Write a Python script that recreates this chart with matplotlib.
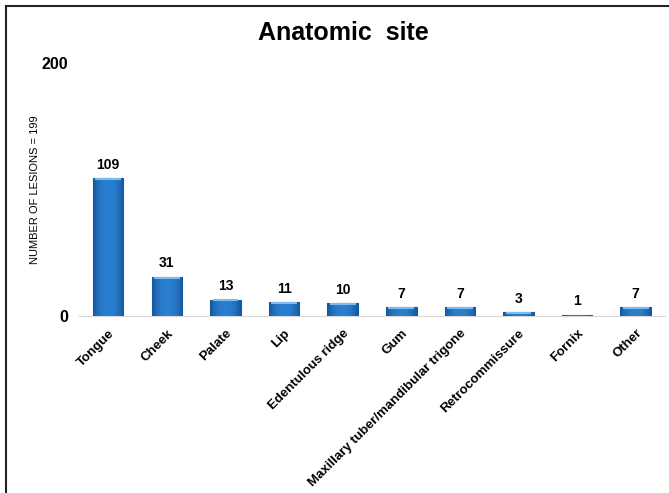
import matplotlib.pyplot as plt
import numpy as np
from matplotlib.lines import Line2D

sites = ['Tongue', 'Cheek', 'Palate', 'Lip', 'Edentulous ridge', 'Gum',
         'Maxillary tuber/mandibular trigone', 'Retrocommissure', 'Fornix', 'Other']
lesions = [109, 31, 13, 11, 10, 7, 7, 3, 1, 7]
y_ticks = [0, 200]

fig = plt.figure(figsize=(6.69, 4.93), dpi=100)
ax = fig.add_axes([0.118, 0.359, 0.876, 0.513])

x = np.arange(len(sites))
bars = ax.bar(x, lesions, width=0.52, color='#2070c0', edgecolor='#17599c', linewidth=0.8, zorder=2)

# shaded look on each bar: lighter in the middle, darker at the sides
grad = np.linspace(-1, 1, 64)
shade = 1 - np.abs(grad) ** 2.2
shade = np.tile(shade, (2, 1))
cmap = plt.matplotlib.colors.LinearSegmentedColormap.from_list('bar', ['#15579c', '#2a7fd0'])
for b in bars:
    x0, w, h = b.get_x(), b.get_width(), b.get_height()
    im = ax.imshow(shade, cmap=cmap, extent=[x0, x0 + w, 0, h], aspect='auto', zorder=3,
                   interpolation='bicubic')
    im.set_clip_path(b)
    # light bevel along the top
    if h > 2:
        ax.plot([x0 + 0.04, x0 + w - 0.04], [h - 0.7, h - 0.7], color='#7fbbee', lw=1.5,
                zorder=4, solid_capstyle='butt')

for xi, v in zip(x, lesions):
    ax.text(xi, v + 5, str(v), ha='center', va='bottom', fontsize=10, fontweight='bold',
            family='Liberation Sans')

ax.set_xlim(-0.5, len(sites) - 0.5)
ax.set_ylim(0, 200)
ax.set_yticks(y_ticks)
ax.set_yticklabels([str(t) for t in y_ticks], fontsize=11.5, fontweight='bold', family='Liberation Sans')
ax.set_xticks(x)
ax.set_xticklabels(sites, rotation=45, ha='right', rotation_mode='anchor', fontsize=9.5,
                   fontweight='bold', family='Liberation Sans')
ax.tick_params(length=0, pad=8)
for s in ['top', 'right', 'left']:
    ax.spines[s].set_visible(False)
ax.spines['bottom'].set_color('#d9d9d9')
ax.set_ylabel('NUMBER OF LESIONS = 199', fontsize=8, family='Liberation Sans')
ax.yaxis.set_label_coords(-0.066, 0.5)

fig.text(0.513, 0.933, 'Anatomic  site', ha='center', va='center', fontsize=18,
         fontweight='bold', family='Liberation Sans')

# frame lines along the top and left edges
fig.add_artist(Line2D([0.009, 1.0], [0.987, 0.987], color='#222222', lw=1.5, transform=fig.transFigure))
fig.add_artist(Line2D([0.009, 0.009], [0.0, 0.987], color='#222222', lw=1.5, transform=fig.transFigure))

fig.savefig('out.png', dpi=100)
